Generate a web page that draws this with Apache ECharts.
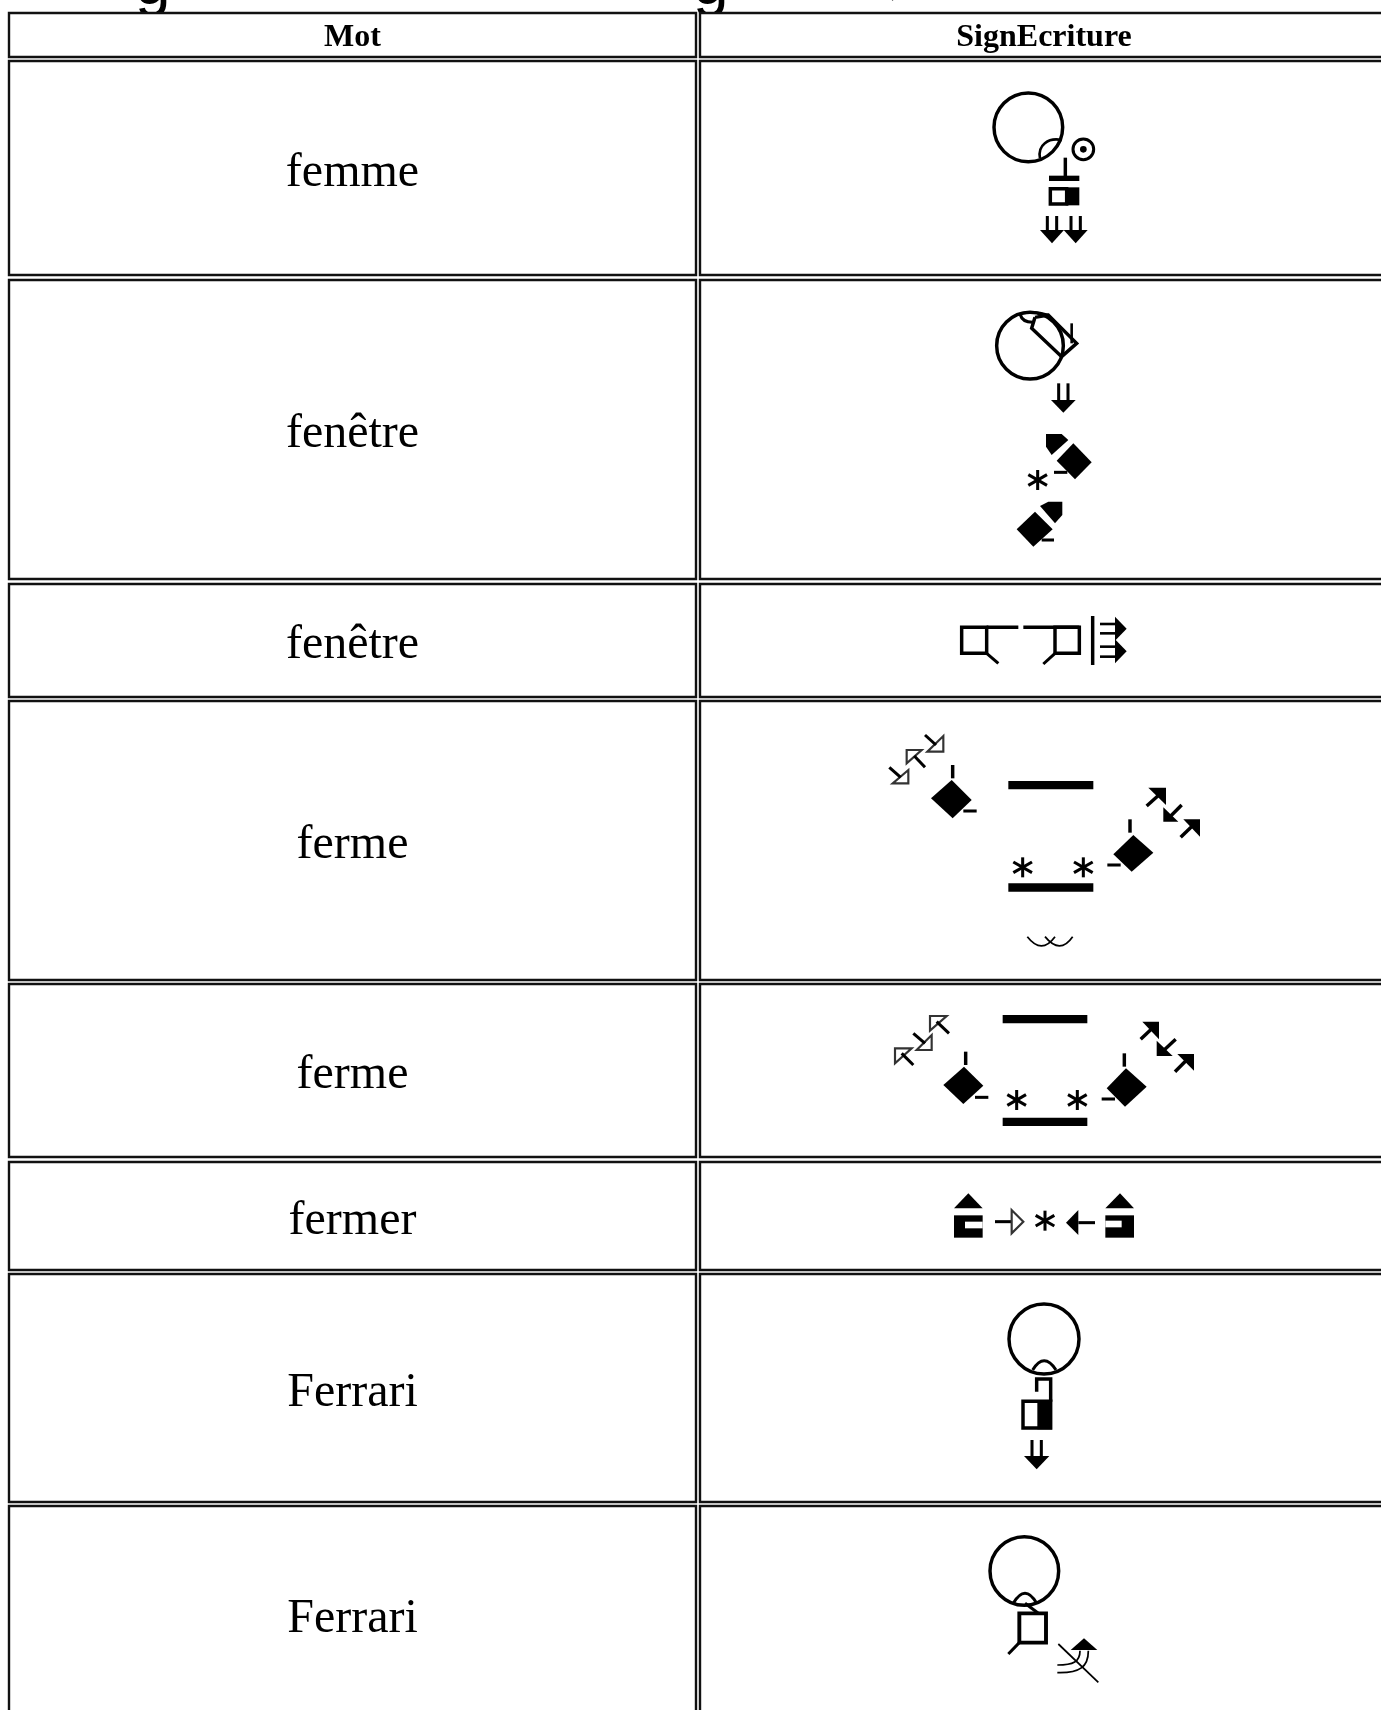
<!DOCTYPE html>
<html>
<head>
<meta charset="utf-8">
<title>SignEcriture</title>
<style>
html, body { margin: 0; padding: 0; background: #fff; }
#chart { width: 1381px; height: 1710px; }
</style>
<script src="https://cdn.jsdelivr.net/npm/echarts@6/dist/echarts.min.js"></script>
</head>
<body>
<div id="chart"></div>
<script>
const headers = ['Mot', 'SignEcriture'];
const words = ['femme', 'fenêtre', 'fenêtre', 'ferme', 'ferme', 'fermer', 'Ferrari', 'Ferrari'];

// layout, in page pixels
const rowTops = [13, 61, 280, 584, 701, 984, 1162, 1274, 1506];
const rowBottoms = [57, 275, 579, 697, 980, 1157, 1270, 1502, 1722];
const colLefts = [9, 700];
const colRights = [696, 1388];

// small drawing helpers, all in 3x crop units (the group scales them down)
const INK = '#000';
const HEAVY = 1.3;
function line(x1, y1, x2, y2, w) {
    return { type: 'line', shape: { x1, y1, x2, y2 }, style: { stroke: INK, lineWidth: (w || 7) * HEAVY, fill: null } };
}
function ring(cx, cy, r, w) {
    return { type: 'circle', shape: { cx, cy, r }, style: { stroke: INK, lineWidth: (w || 8) * HEAVY, fill: null } };
}
function dot(cx, cy, r) {
    return { type: 'circle', shape: { cx, cy, r }, style: { fill: INK } };
}
function box(x1, y1, x2, y2, color) {
    return { type: 'rect', shape: { x: x1, y: y1, width: x2 - x1, height: y2 - y1 }, style: { fill: color || INK } };
}
function frame(x1, y1, x2, y2, w) {
    return { type: 'rect', shape: { x: x1, y: y1, width: x2 - x1, height: y2 - y1 }, style: { stroke: INK, lineWidth: (w || 8) * HEAVY, fill: null } };
}
function solid(points) {
    return { type: 'polygon', shape: { points }, style: { fill: INK } };
}
function hollow(points, w) {
    return { type: 'polygon', shape: { points }, style: { stroke: '#333', lineWidth: (w || 5) * HEAVY, fill: '#fff' } };
}
function stroked(points, w) {
    return { type: 'polyline', shape: { points }, style: { stroke: INK, lineWidth: (w || 8) * HEAVY, fill: null } };
}
function curve(x1, y1, cx, cy, x2, y2, w) {
    return { type: 'bezierCurve', shape: { x1, y1, cpx1: cx, cpy1: cy, x2, y2 }, style: { stroke: INK, lineWidth: (w || 7) * HEAVY, fill: null } };
}
function bezier(x1, y1, c1x, c1y, c2x, c2y, x2, y2, w) {
    return { type: 'bezierCurve', shape: { x1, y1, cpx1: c1x, cpy1: c1y, cpx2: c2x, cpy2: c2y, x2, y2 }, style: { stroke: INK, lineWidth: (w || 4) * HEAVY, fill: null } };
}
function star(cx, cy) {
    return [
        line(cx, cy - 30, cx, cy + 30, 7),
        line(cx - 28, cy - 16, cx + 28, cy + 16, 7),
        line(cx - 28, cy + 16, cx + 28, cy - 16, 7)
    ];
}
function downArrow(cx, top, neck, tip, half) {
    return [
        line(cx - 14, top, cx - 14, neck, 7),
        line(cx + 14, top, cx + 14, neck, 7),
        solid([[cx - half, neck], [cx + half, neck], [cx, tip]])
    ];
}

const signDrawings = [
    // femme
    { x: 960, y: 70, parts: [
        ring(205, 172, 103),
        bezier(240, 265, 232, 225, 265, 202, 305, 210, 6),
        ring(370, 238, 31, 7),
        dot(370, 238, 10),
        line(316, 263, 316, 325, 8),
        box(267, 317, 358, 333),
        frame(271, 356, 320, 402, 8),
        box(317, 352, 358, 406),
        ...downArrow(276, 438, 480, 520, 36),
        ...downArrow(347, 438, 480, 520, 36)
    ] },
    // fenêtre
    { x: 980, y: 290, parts: [
        ring(150, 167, 100),
        bezier(120, 72, 125, 90, 140, 97, 158, 97, 7),
        curve(120, 72, 160, 60, 205, 75, 6),
        stroked([[165, 82], [155, 115], [245, 200], [290, 160], [205, 75], [165, 82]], 8),
        line(275, 100, 275, 160, 6),
        ...downArrow(250, 280, 330, 368, 37),
        solid([[280, 460], [335, 517], [285, 568], [230, 512]]),
        solid([[198, 432], [245, 432], [265, 450], [215, 495], [198, 470]]),
        line(222, 547, 262, 547, 7),
        ...star(173, 570),
        solid([[247, 635], [247, 675], [225, 700], [180, 648], [205, 635]]),
        solid([[165, 665], [218, 718], [160, 770], [110, 718]]),
        line(185, 750, 222, 750, 7)
    ] },
    // fenêtre (2)
    { x: 940, y: 600, parts: [
        frame(65, 82, 140, 160, 8),
        line(140, 82, 235, 82, 8),
        line(140, 160, 175, 190, 7),
        line(250, 82, 418, 82, 8),
        frame(345, 82, 418, 160, 8),
        line(345, 160, 310, 192, 7),
        line(458, 48, 458, 195, 8),
        line(480, 72, 530, 72, 6),
        line(480, 100, 530, 100, 6),
        solid([[525, 50], [525, 122], [560, 86]]),
        line(480, 140, 530, 140, 6),
        line(480, 170, 530, 170, 6),
        solid([[525, 118], [525, 190], [560, 154]])
    ] },
    // ferme
    { x: 870, y: 720, parts: [
        hollow([[68, 190], [115, 190], [115, 150]]),
        line(58, 142, 92, 172, 7),
        hollow([[110, 90], [155, 90], [110, 130]]),
        line(165, 142, 133, 108, 7),
        hollow([[172, 95], [220, 95], [220, 48]]),
        line(165, 45, 198, 75, 7),
        line(248, 135, 248, 175, 8),
        solid([[245, 180], [305, 240], [248, 295], [183, 235]]),
        line(280, 273, 320, 273, 7),
        box(415, 183, 670, 208),
        box(415, 490, 670, 515),
        ...star(458, 442),
        ...star(640, 442),
        solid([[790, 345], [850, 398], [785, 455], [730, 403]]),
        line(780, 298, 780, 338, 8),
        line(712, 435, 752, 435, 7),
        solid([[835, 203], [888, 203], [888, 255]]),
        line(830, 258, 870, 222, 8),
        solid([[880, 305], [925, 305], [880, 262]]),
        line(935, 255, 900, 290, 8),
        solid([[940, 298], [990, 298], [990, 350]]),
        line(932, 352, 970, 315, 8),
        curve(472, 650, 515, 705, 555, 650, 4),
        curve(525, 650, 570, 705, 608, 650, 4)
    ] },
    // ferme (2)
    { x: 880, y: 1000, parts: [
        hollow([[45, 145], [95, 145], [45, 190]]),
        line(100, 195, 65, 160, 7),
        hollow([[110, 150], [155, 150], [155, 105]]),
        line(100, 100, 135, 130, 7),
        hollow([[150, 48], [200, 48], [150, 92]]),
        line(207, 100, 170, 65, 7),
        line(257, 155, 257, 195, 8),
        solid([[252, 200], [310, 257], [250, 312], [190, 255]]),
        line(285, 292, 325, 292, 7),
        box(368, 45, 622, 70),
        box(368, 353, 622, 378),
        ...star(410, 300),
        ...star(592, 300),
        solid([[738, 205], [800, 260], [735, 320], [680, 265]]),
        line(733, 160, 733, 200, 8),
        line(665, 297, 705, 297, 7),
        solid([[787, 65], [837, 65], [837, 118]]),
        line(782, 118, 820, 82, 8),
        solid([[830, 168], [878, 168], [830, 122]]),
        line(887, 118, 850, 152, 8),
        solid([[892, 162], [942, 162], [942, 212]]),
        line(885, 215, 920, 180, 8)
    ] },
    // fermer
    { x: 930, y: 1190, parts: [
        solid([[72, 55], [158, 55], [115, 10]]),
        box(72, 76, 158, 143),
        box(105, 95, 158, 115, '#fff'),
        line(195, 95, 245, 95, 7),
        hollow([[245, 60], [245, 130], [280, 95]], 5),
        ...star(345, 92),
        solid([[445, 60], [445, 135], [408, 98]]),
        line(445, 98, 495, 98, 7),
        solid([[526, 55], [612, 55], [570, 10]]),
        box(526, 76, 612, 143),
        box(526, 92, 575, 112, '#fff')
    ] },
    // Ferrari
    { x: 980, y: 1290, parts: [
        ring(192, 147, 105),
        curve(158, 240, 192, 185, 228, 240, 7),
        stroked([[170, 305], [170, 267], [212, 267], [212, 335]], 8),
        frame(129, 334, 212, 414, 8),
        box(172, 334, 216, 418),
        ...downArrow(170, 450, 498, 538, 38)
    ] },
    // Ferrari (2)
    { x: 970, y: 1520, parts: [
        ring(163, 153, 103),
        curve(130, 250, 165, 190, 200, 250, 7),
        line(165, 250, 205, 280, 7),
        frame(148, 280, 228, 368, 9),
        line(148, 368, 115, 402, 7),
        solid([[302, 390], [382, 390], [342, 355]]),
        bezier(262, 435, 310, 435, 330, 425, 330, 392, 4),
        bezier(262, 458, 330, 460, 355, 440, 355, 392, 4),
        line(265, 372, 385, 487, 4)
    ] }
];

function cellRect(api, col, row) {
    const a = api.coord([colLefts[col], rowTops[row]]);
    const b = api.coord([colRights[col], rowBottoms[row]]);
    return { x: a[0], y: a[1], w: b[0] - a[0], h: b[1] - a[1] };
}

function renderRow(params, api) {
    const row = api.value(0);
    const isHeader = row === 0;
    const left = cellRect(api, 0, row);
    const right = cellRect(api, 1, row);
    const children = [];
    [left, right].forEach((c) => {
        children.push({
            type: 'rect',
            shape: { x: c.x, y: c.y, width: c.w, height: c.h },
            style: { fill: '#fff', stroke: '#111', lineWidth: 2.4 }
        });
    });
    const textFont = isHeader ? 'bold 32px "Liberation Serif"' : '48px "Liberation Serif"';
    if (isHeader) {
        headers.forEach((h, i) => {
            const c = i === 0 ? left : right;
            children.push({
                type: 'text',
                style: { text: h, x: c.x + c.w / 2, y: c.y + c.h / 2 + 3, align: 'center', verticalAlign: 'middle', font: textFont, fill: '#000' }
            });
        });
    } else {
        children.push({
            type: 'text',
            style: { text: words[row - 1], x: left.x + left.w / 2, y: left.y + left.h / 2 + 5, align: 'center', verticalAlign: 'middle', font: textFont, fill: '#000' }
        });
        const sign = signDrawings[row - 1];
        const origin = api.coord([sign.x, sign.y]);
        children.push({
            type: 'group',
            x: origin[0],
            y: origin[1],
            scaleX: 1 / 3,
            scaleY: 1 / 3,
            children: sign.parts
        });
    }
    return { type: 'group', children };
}

const myChart = echarts.init(document.getElementById('chart'));
myChart.setOption({
    animation: false,
    backgroundColor: '#fff',
    grid: { left: 0, right: 0, top: 0, bottom: 0 },
    xAxis: { type: 'value', min: 0, max: 1381, show: false },
    yAxis: { type: 'value', min: 0, max: 1710, inverse: true, show: false },
    // heading above the table, only its descenders reach the page
    graphic: [
        { type: 'text', style: { text: 'g', x: 135, y: -46, font: '64px "Liberation Sans"', fill: '#000' } },
        { type: 'text', style: { text: 'g', x: 693, y: -46, font: '64px "Liberation Sans"', fill: '#000' } },
        { type: 'text', style: { text: ',', x: 890, y: -18, font: '20px "Liberation Sans"', fill: '#000' } }
    ],
    series: [{
        type: 'custom',
        clip: false,
        silent: true,
        renderItem: renderRow,
        encode: { x: 0, y: 0 },
        data: rowTops.map((t, i) => [i])
    }]
});
</script>
</body>
</html>
